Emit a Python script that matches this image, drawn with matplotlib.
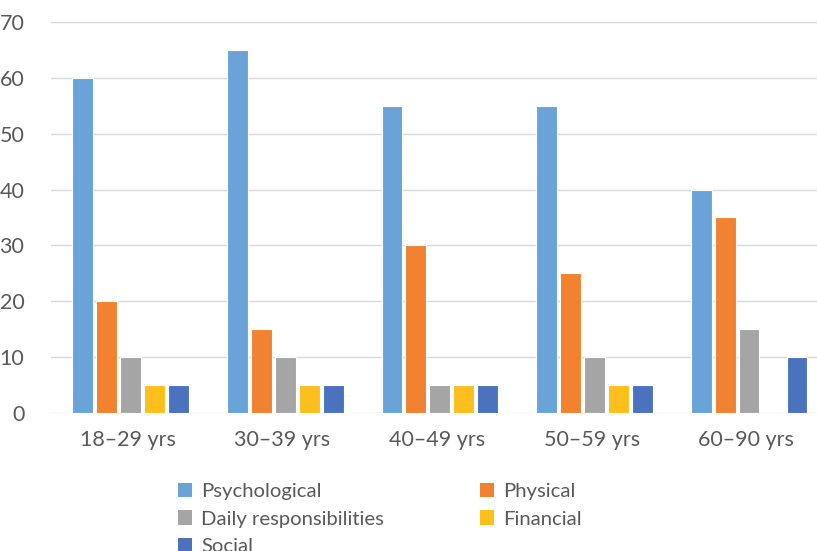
import numpy as np
import matplotlib.pyplot as plt
from matplotlib.patches import Patch

plt.rcParams['font.family'] = ['Lato', 'DejaVu Sans']

groups = ['18\u201329 yrs', '30\u201339 yrs', '40\u201349 yrs', '50\u201359 yrs', '60\u201390 yrs']
series = ['Psychological', 'Physical', 'Daily responsibilities', 'Financial', 'Social']
psychological = [60, 65, 55, 55, 40]
physical = [20, 15, 30, 25, 35]
daily = [10, 10, 5, 10, 15]
financial = [5, 5, 5, 5, 0]
social = [5, 5, 5, 5, 10]
colors = ['#6AA3D7', '#F08231', '#A5A5A5', '#FDBF1E', '#4A72BD']

values = [psychological, physical, daily, financial, social]

fig = plt.figure(figsize=(8.17, 5.51), dpi=100)
ax = fig.add_axes([0.062, 0.2505, 0.946, 0.7096])

x = np.arange(len(groups))
width = 0.135
step = 0.155
for i, (vals, col) in enumerate(zip(values, colors)):
    ax.bar(x + 0.018 + (i - 2) * step, vals, width, color=col,
           edgecolor='white', linewidth=0.8, zorder=3)

ax.set_xlim(-0.5, 4.5)
ax.set_ylim(0, 70)
ax.set_yticks(range(0, 71, 10))
ax.set_xticks(x)
ax.set_xticklabels(groups)
ax.grid(axis='y', color='#D9D9D9', linewidth=1, zorder=0)
for s in ax.spines.values():
    s.set_visible(False)
ax.tick_params(labelsize=15.5, length=0, colors='#595959')
ax.tick_params(axis='x', pad=12)
ax.tick_params(axis='y', pad=19)

# legend reads row by row: matplotlib fills columns first, so reorder
handles = [Patch(facecolor=c, label=s) for s, c in zip(series, colors)]
order = [0, 2, 4, 1, 3]
fig.legend(handles=[handles[k] for k in order], ncol=2, loc='upper left',
           bbox_to_anchor=(0.218, 0.124), frameon=False, fontsize=14.6,
           labelcolor='#595959', handlelength=0.7, handleheight=0.7,
           handletextpad=0.45, columnspacing=4.7, labelspacing=0.52,
           borderaxespad=0, borderpad=0)

fig.savefig('out.png', dpi=100)
